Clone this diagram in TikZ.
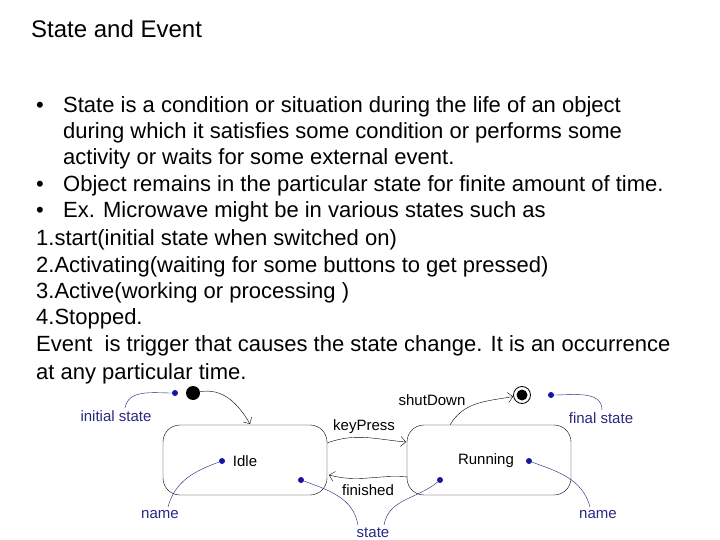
\documentclass[tikz,border=0pt]{standalone}
\usepackage{fontspec}
\setmainfont{Liberation Sans}
\usetikzlibrary{arrows.meta}
\begin{document}
\begin{tikzpicture}[x=1pt,y=-1pt,
  txt/.style={anchor=base west,inner sep=0,font=\fontsize{22}{26}\selectfont},
  lbl/.style={inner sep=0,font=\fontsize{15}{17}\selectfont},
  blbl/.style={inner sep=0,font=\fontsize{15}{17}\selectfont,text={rgb,255:red,40;green,40;blue,130}},
  bdot/.style={circle,fill={rgb,255:red,20;green,20;blue,160},inner sep=0,minimum size=6pt},
  bline/.style={draw={rgb,255:red,30;green,30;blue,120},thin},
  st/.style={draw,rounded corners=17pt,minimum width=164pt,minimum height=70pt,inner sep=0},
  arr/.style={-{Straight Barb[length=5pt]},thin}]
\useasboundingbox (0,0) rectangle (720,540);
\node[txt,font=\fontsize{24}{28}\selectfont] (title) at (31,38) {State and Event};
\node[txt] (b1) at (36,113) {•};
\node[txt] (l1) at (63,113) {State is a condition or situation during the life of an object};
\node[txt] (l2) at (63,139) {during which it satisfies some condition or performs some};
\node[txt] (l3) at (63,165) {activity or waits for some external event.};
\node[txt] (b2) at (36,192) {•};
\node[txt] (l4) at (63,192) {Object remains in the particular state for finite amount of time.};
\node[txt] (b3) at (36,218) {•};
\node[txt] (l5) at (63,218) {Ex. Microwave might be in various states such as};
\node[txt] (l6) at (36,245) {1.start(initial state when switched on)};
\node[txt] (l7) at (36,272) {2.Activating(waiting for some buttons to get pressed)};
\node[txt] (l8) at (36,298) {3.Active(working or processing )};
\node[txt] (l9) at (36,324) {4.Stopped.};
\node[txt] (l10) at (36,351) {Event\ \ is trigger that causes the state change. It is an occurrence};
\node[txt] (l11) at (36,379) {at any particular time.};
% diagram
\node[st] (idle) at (245,460) {};
\node[st] (run) at (489,460) {};
\node[lbl] (idlet) at (245,461) {Idle};
\node[lbl] (runt) at (486,461) {Running};
\node[circle,fill=black,inner sep=0,minimum size=14pt] (init) at (193,393) {};
\node[circle,draw,thick,inner sep=0,minimum size=17pt] (fin) at (522,395) {};
\node[circle,fill=black,inner sep=0,minimum size=11pt] (finc) at (522,395) {};
\coordinate (idletop) at (250,424);
\draw[arr] (init) to[out=10,in=120] (idletop);
\coordinate (runtop) at (450,425);
\draw[arr] (runtop) to[out=60,in=190] (fin);
\coordinate (kpa) at (327,443);
\coordinate (kpb) at (406,442);
\draw[arr] (kpa) to[out=20,in=175] (kpb);
\coordinate (fia) at (408,477);
\coordinate (fib) at (329,475);
\draw[arr] (fia) to[out=175,in=-15] (fib);
\node[lbl] (kp) at (364,427) {keyPress};
\node[lbl] (fi) at (368,490) {finished};
\node[lbl] (sd) at (432,400) {shutDown};
% annotations
\node[bdot] (d1) at (175,393) {};
\node[blbl] (t1) at (116,416) {initial state};
\draw[bline] (d1) to[out=180,in=80] (125,408);
\node[bdot] (d2) at (222,461) {};
\node[blbl] (t2) at (160,515) {name};
\draw[bline] (d2) to[out=200,in=75] (168,507);
\node[bdot] (d3) at (301,480) {};
\node[bdot] (d4) at (440,480) {};
\node[blbl] (t3) at (373,533) {state};
\draw[bline] (d3) to[out=-20,in=100] (358,525);
\draw[bline] (d4) to[out=220,in=80] (384,525);
\node[bdot] (d5) at (529,461) {};
\node[blbl] (t4) at (598,515) {name};
\draw[bline] (d5) to[out=-20,in=105] (590,507);
\node[bdot] (d6) at (551,395) {};
\node[blbl] (t5) at (601,418) {final state};
\draw[bline] (d6) to[out=0,in=90] (602,410);
\end{tikzpicture}
\end{document}
